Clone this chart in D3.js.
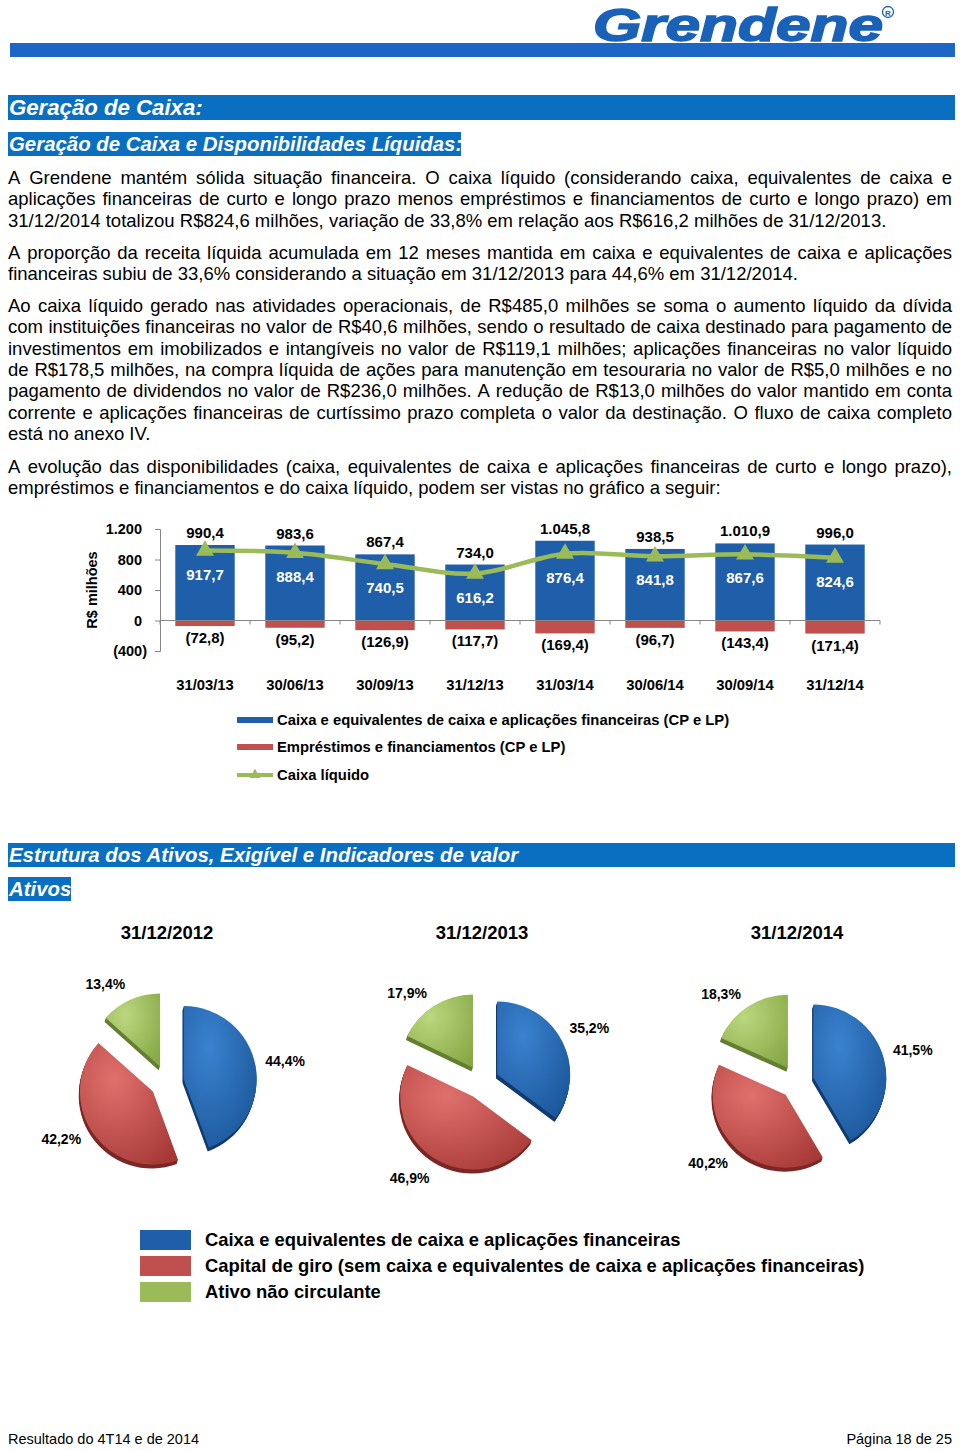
<!DOCTYPE html>
<html>
<head>
<meta charset="utf-8">
<script src="https://cdn.jsdelivr.net/npm/d3@7"></script>
<style>
  html, body { margin: 0; padding: 0; background: #fff; }
  svg { display: block; }
  text { font-family: "Liberation Sans", Arial, sans-serif; }
</style>
</head>
<body>
<script>
// ---------------- DATA ----------------
const dates = ["31/03/13","30/06/13","30/09/13","31/12/13","31/03/14","30/06/14","30/09/14","31/12/14"];
const grossCash = [990.4, 983.6, 867.4, 734.0, 1045.8, 938.5, 1010.9, 996.0];
const loans = [-72.8, -95.2, -126.9, -117.7, -169.4, -96.7, -143.4, -171.4];
const netCash = [917.7, 888.4, 740.5, 616.2, 876.4, 841.8, 867.6, 824.6];
const yTicks = [-400, 0, 400, 800, 1200];
const barLegend = ["Caixa e equivalentes de caixa e aplicações financeiras (CP e LP)",
                   "Empréstimos e financiamentos (CP e LP)",
                   "Caixa líquido"];

const pieYears = ["31/12/2012", "31/12/2013", "31/12/2014"];
const pieCaixa = [44.4, 35.2, 41.5];
const pieCapital = [42.2, 46.9, 40.2];
const pieAtivoNC = [13.4, 17.9, 18.3];
const pieLegend = ["Caixa e equivalentes de caixa e aplicações financeiras",
                   "Capital de giro (sem caixa e equivalentes de caixa e aplicações financeiras)",
                   "Ativo não circulante"];

const paragraphs = [
  ["A Grendene mantém sólida situação financeira. O caixa líquido (considerando caixa, equivalentes de caixa e",
   "aplicações financeiras de curto e longo prazo menos empréstimos e financiamentos de curto e longo prazo) em",
   "31/12/2014 totalizou R$824,6 milhões, variação de 33,8% em relação aos R$616,2 milhões de 31/12/2013."],
  ["A proporção da receita líquida acumulada em 12 meses mantida em caixa e equivalentes de caixa e aplicações",
   "financeiras subiu de 33,6% considerando a situação em 31/12/2013 para 44,6% em 31/12/2014."],
  ["Ao caixa líquido gerado nas atividades operacionais, de R$485,0 milhões se soma o aumento líquido da dívida",
   "com instituições financeiras no valor de R$40,6 milhões, sendo o resultado de caixa destinado para pagamento de",
   "investimentos em imobilizados e intangíveis no valor de R$119,1 milhões; aplicações financeiras no valor líquido",
   "de R$178,5 milhões, na compra líquida de ações para manutenção em tesouraria no valor de R$5,0 milhões e no",
   "pagamento de dividendos no valor de R$236,0 milhões. A redução de R$13,0 milhões do valor mantido em conta",
   "corrente e aplicações financeiras de curtíssimo prazo completa o valor da destinação. O fluxo de caixa completo",
   "está no anexo IV."],
  ["A evolução das disponibilidades (caixa, equivalentes de caixa e aplicações financeiras de curto e longo prazo),",
   "empréstimos e financiamentos e do caixa líquido, podem ser vistas no gráfico a seguir:"]
];
const paraStarts = [184, 259, 312, 473];

// ---------------- SETUP ----------------
const BLUE = "#1f5ea8", RED = "#c0504d", GREEN = "#9bbb59", HEAD = "#0b6fc1";
const svg = d3.select("body").append("svg").attr("width", 960).attr("height", 1450);
const defs = svg.append("defs");

const loc = d3.formatLocale({decimal: ",", thousands: ".", grouping: [3], currency: ["R$", ""]});
const f1 = loc.format(",.1f"), f0 = loc.format(",.0f");
const fmtVal = v => v < 0 ? "(" + f1(-v) + ")" : f1(v);
const fmtTick = v => v < 0 ? "(" + f0(-v) + ")" : f0(v);

// ---------------- HEADER / LOGO ----------------
svg.append("text").attr("x", 593).attr("y", 41)
  .attr("font-size", 46).attr("font-weight", "bold").attr("font-style", "italic")
  .attr("fill", "#1a62b8").attr("stroke", "#1a62b8").attr("stroke-width", 1.6)
  .attr("textLength", 290).attr("lengthAdjust", "spacingAndGlyphs")
  .text("Grendene");
svg.append("circle").attr("cx", 888).attr("cy", 12).attr("r", 5.5)
  .attr("fill", "none").attr("stroke", "#1a62b8").attr("stroke-width", 1.3);
svg.append("text").attr("x", 888).attr("y", 15.5).attr("text-anchor", "middle")
  .attr("font-size", 8).attr("font-weight", "bold").attr("fill", "#1a62b8").text("R");
svg.append("rect").attr("x", 10).attr("y", 43).attr("width", 945).attr("height", 14).attr("fill", "#1d66c7");

// ---------------- SECTION HEADERS ----------------
function header(x, y, w, h, txt, size) {
  svg.append("rect").attr("x", x).attr("y", y).attr("width", w).attr("height", h).attr("fill", HEAD);
  svg.append("text").attr("x", x + 1).attr("y", y + h - 5)
    .attr("font-size", size).attr("font-weight", "bold").attr("font-style", "italic")
    .attr("fill", "#fff").text(txt);
}
header(8, 95, 947, 25, "Geração de Caixa:", 22.2);
header(8, 132, 453, 24, "Geração de Caixa e Disponibilidades Líquidas:", 20.4);
header(8, 843, 947, 24, "Estrutura dos Ativos, Exigível e Indicadores de valor", 20.4);
header(8, 877, 63, 24, "Ativos", 20.4);

// ---------------- BODY TEXT (justified) ----------------
const TX0 = 8, TX1 = 952, FS = 18.5, LH = 21.3;
const measurer = svg.append("text").attr("font-size", FS).attr("x", -1000).attr("y", -1000);
function wordWidth(w) { measurer.text(w); return measurer.node().getComputedTextLength(); }
paragraphs.forEach((lines, pi) => {
  lines.forEach((line, li) => {
    const yb = paraStarts[pi] + li * LH;
    const t = svg.append("text").attr("font-size", FS).attr("y", yb).attr("fill", "#000");
    const last = li === lines.length - 1;
    if (last) { t.attr("x", TX0).text(line); return; }
    const words = line.split(" ");
    const widths = words.map(wordWidth);
    const total = d3.sum(widths);
    const gap = (TX1 - TX0 - total) / (words.length - 1);
    let cx = TX0;
    words.forEach((w, i) => {
      t.append("tspan").attr("x", cx).text(w);
      cx += widths[i] + gap;
    });
  });
});
measurer.remove();

// ---------------- BAR CHART ----------------
const y = d3.scaleLinear().domain([-400, 1200]).range([651, 529]);
const x = d3.scaleBand().domain(dates).range([160, 880]).paddingInner(0.34).paddingOuter(0.17);
const cxOf = d => x(d) + x.bandwidth() / 2;
const chart = svg.append("g");

// y axis
const yAxis = chart.append("g").attr("transform", "translate(160,0)")
  .call(d3.axisLeft(y).tickValues(yTicks).tickSize(5).tickPadding(13).tickFormat(fmtTick));
yAxis.select(".domain").attr("stroke", "#868686");
yAxis.selectAll(".tick line").attr("stroke", "#868686");
yAxis.selectAll(".tick text").attr("font-size", 14.5).attr("font-weight", "bold").attr("fill", "#000")
  .attr("font-family", "Liberation Sans, Arial, sans-serif")
  .attr("dx", d => d < 0 ? 5 : 0);

svg.append("text").attr("transform", "translate(97,590) rotate(-90)")
  .attr("text-anchor", "middle").attr("font-size", 14.5).attr("font-weight", "bold").text("R$ milhões");

// bars
chart.selectAll("rect.gross").data(dates).join("rect").attr("class", "gross")
  .attr("x", d => x(d)).attr("width", x.bandwidth())
  .attr("y", (d, i) => y(grossCash[i])).attr("height", (d, i) => y(0) - y(grossCash[i]))
  .attr("fill", BLUE);
chart.selectAll("rect.loan").data(dates).join("rect").attr("class", "loan")
  .attr("x", d => x(d)).attr("width", x.bandwidth())
  .attr("y", y(0)).attr("height", (d, i) => y(loans[i]) - y(0))
  .attr("fill", RED);

// zero line with boundary ticks
const step = x.step();
const x0 = x.range()[0];
chart.append("line").attr("x1", x0).attr("x2", x.range()[1]).attr("y1", y(0)).attr("y2", y(0))
  .attr("stroke", "#868686").attr("stroke-width", 1);
chart.selectAll("line.bt").data(d3.range(dates.length + 1)).join("line").attr("class", "bt")
  .attr("x1", i => x0 + i * step).attr("x2", i => x0 + i * step)
  .attr("y1", y(0)).attr("y2", y(0) + 4).attr("stroke", "#868686");

// net cash line
const line = d3.line().x((d, i) => cxOf(dates[i])).y(d => y(d)).curve(d3.curveCatmullRom.alpha(0.5));
chart.append("path").datum(netCash).attr("d", line).attr("fill", "none")
  .attr("stroke", GREEN).attr("stroke-width", 4.5);
chart.selectAll("path.mk").data(netCash).join("path").attr("class", "mk")
  .attr("d", d3.symbol(d3.symbolTriangle).size(140))
  .attr("transform", (d, i) => `translate(${cxOf(dates[i])},${y(d)})`)
  .attr("fill", GREEN);

// labels
const LFS = 15;
chart.selectAll("text.gl").data(grossCash).join("text").attr("class", "gl")
  .attr("x", (d, i) => cxOf(dates[i])).attr("y", d => y(d) - 7)
  .attr("text-anchor", "middle").attr("font-size", LFS).attr("font-weight", "bold").text(fmtVal);
chart.selectAll("text.nl").data(netCash).join("text").attr("class", "nl")
  .attr("x", (d, i) => cxOf(dates[i])).attr("y", d => y(d) + 29)
  .attr("text-anchor", "middle").attr("font-size", LFS).attr("font-weight", "bold").attr("fill", "#fff").text(fmtVal);
chart.selectAll("text.ll").data(loans).join("text").attr("class", "ll")
  .attr("x", (d, i) => cxOf(dates[i])).attr("y", d => y(d) + 17)
  .attr("text-anchor", "middle").attr("font-size", LFS).attr("font-weight", "bold").text(fmtVal);

// category labels
chart.selectAll("text.cat").data(dates).join("text").attr("class", "cat")
  .attr("x", cxOf).attr("y", 690).attr("text-anchor", "middle")
  .attr("font-size", 14.8).attr("font-weight", "bold").text(d => d);

// legend
const lg = svg.append("g");
const lgY = [720, 747, 775];
lg.append("rect").attr("x", 237).attr("y", lgY[0] - 3).attr("width", 36).attr("height", 6).attr("fill", BLUE);
lg.append("rect").attr("x", 237).attr("y", lgY[1] - 3).attr("width", 36).attr("height", 6).attr("fill", RED);
lg.append("line").attr("x1", 237).attr("x2", 273).attr("y1", lgY[2]).attr("y2", lgY[2])
  .attr("stroke", GREEN).attr("stroke-width", 4);
lg.append("path").attr("d", d3.symbol(d3.symbolTriangle).size(50)).attr("transform", `translate(255,${lgY[2]})`).attr("fill", GREEN);
lg.selectAll("text").data(barLegend).join("text")
  .attr("x", 277).attr("y", (d, i) => lgY[i] + 5)
  .attr("font-size", 14.8).attr("font-weight", "bold").text(d => d);

// ---------------- PIES ----------------
const pcx = d3.scalePoint().domain(pieYears).range([167, 797]);
const PCY = 1082, R = 73, EXPLODE = 17;
const pieKeys = ["caixa", "capital", "anc"];
const pieTop = {caixa: ["#3a82cf", "#1a5598"], capital: ["#e0706c", "#a63936"], anc: ["#bcd77f", "#86a845"]};
const pieSide = {caixa: "#123c6e", capital: "#7a2826", anc: "#647f32"};
const labelAdj = {caixa: 0, capital: 6 * Math.PI / 180, anc: -8 * Math.PI / 180};
const labelR = {caixa: 120, capital: 120, anc: 116};
pieKeys.forEach(k => {
  const g = defs.append("radialGradient").attr("id", "pg-" + k)
    .attr("cx", "35%").attr("cy", "30%").attr("r", "85%");
  g.append("stop").attr("offset", "0%").attr("stop-color", pieTop[k][0]);
  g.append("stop").attr("offset", "100%").attr("stop-color", pieTop[k][1]);
});
const pie = d3.pie().sort(null).value(d => d.v).startAngle(0).endAngle(2 * Math.PI);
const arc = d3.arc().innerRadius(0).outerRadius(R);

pieYears.forEach((yr, i) => {
  const cx = pcx(yr);
  svg.append("text").attr("x", cx).attr("y", 939).attr("text-anchor", "middle")
    .attr("font-size", 18.5).attr("font-weight", "bold").text(yr);
  const data = [{k: "caixa", v: pieCaixa[i]}, {k: "capital", v: pieCapital[i]}, {k: "anc", v: pieAtivoNC[i]}];
  const arcs = pie(data);
  const g = svg.append("g").attr("transform", `translate(${cx},${PCY})`);
  arcs.forEach(a => {
    const mid = (a.startAngle + a.endAngle) / 2;
    const dx = Math.sin(mid) * EXPLODE, dy = -Math.cos(mid) * EXPLODE;
    const s = g.append("g").attr("transform", `translate(${dx},${dy})`);
    for (let z = 4; z >= 1; z--) {
      s.append("path").attr("d", arc(a)).attr("transform", `translate(${-z * 0.3},${z})`).attr("fill", pieSide[a.data.k]);
    }
    s.append("path").attr("d", arc(a)).attr("fill", `url(#pg-${a.data.k})`);
    const la = mid + labelAdj[a.data.k], lr = labelR[a.data.k];
    g.append("text").attr("x", Math.sin(la) * lr).attr("y", -Math.cos(la) * lr + 5)
      .attr("text-anchor", "middle").attr("font-size", 14).attr("font-weight", "bold")
      .text(f1(a.data.v) + "%");
  });
});

// pie legend
const plY = [1230, 1256, 1282];
const plC = [BLUE, RED, GREEN];
plY.forEach((yy, i) => {
  svg.append("rect").attr("x", 140).attr("y", yy).attr("width", 51).attr("height", 20).attr("fill", plC[i]);
  svg.append("text").attr("x", 205).attr("y", yy + 16).attr("font-size", 18.4).attr("font-weight", "bold").text(pieLegend[i]);
});

// ---------------- FOOTER ----------------
svg.append("text").attr("x", 8).attr("y", 1444).attr("font-size", 14.5).text("Resultado do 4T14 e de 2014");
svg.append("text").attr("x", 952).attr("y", 1444).attr("text-anchor", "end").attr("font-size", 14.5).text("Página 18 de 25");
</script>
</body>
</html>
